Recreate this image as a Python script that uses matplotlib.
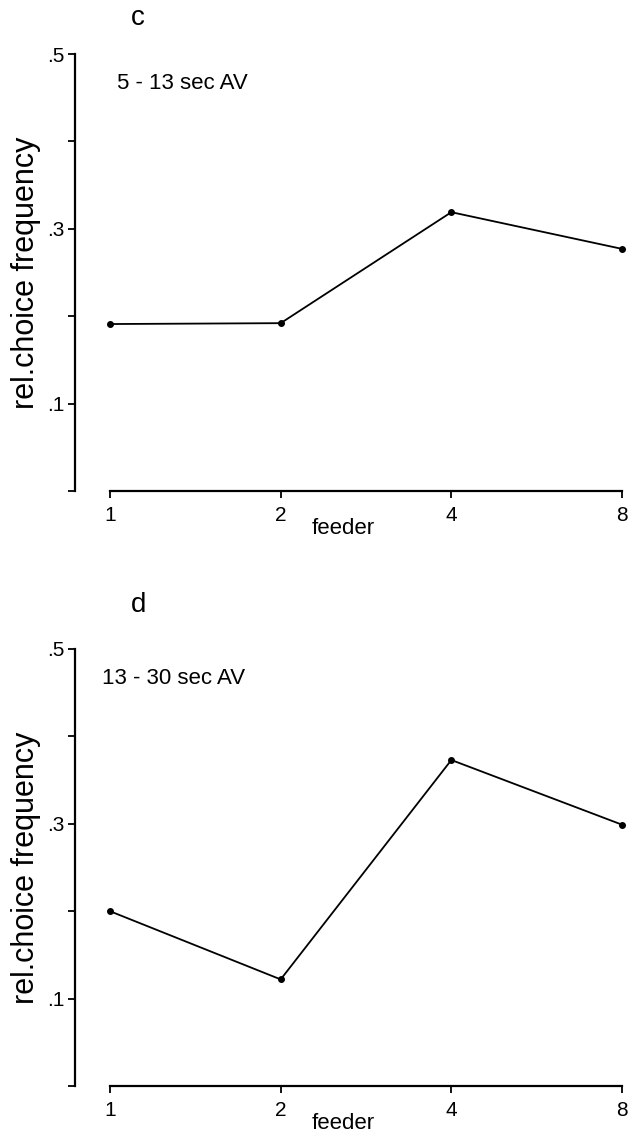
import matplotlib.pyplot as plt

plt.rcParams['font.family'] = ['Liberation Sans', 'DejaVu Sans']

# feeder categories and relative choice frequencies per delay range
feeders = ['1', '2', '4', '8']
freq_c = [0.191, 0.192, 0.319, 0.277]
freq_d = [0.200, 0.122, 0.373, 0.299]

# letter, note, values, axes rect, note x, letter y
panels = [
    ('c', '5 - 13 sec AV', freq_c, [0.1749, 0.5701, 0.8140, 0.3826], 0.014, 1.082),
    ('d', '13 - 30 sec AV', freq_d, [0.1749, 0.0490, 0.8140, 0.3827], -0.016, 1.10),
]

fig = plt.figure(figsize=(6.29, 11.42), dpi=100)

for letter, note, freq, rect, note_x, letter_y in panels:
    ax = fig.add_axes(rect)
    xs = range(len(feeders))
    ax.plot(xs, freq, color='black', lw=1.3, marker='o', ms=4, clip_on=False)

    ax.set_xlim(0, len(feeders) - 1)
    ax.set_ylim(0, 0.5)

    for side in ['top', 'right']:
        ax.spines[side].set_visible(False)
    ax.spines['left'].set_position(('outward', 25))
    ax.spines['left'].set_bounds(0, 0.5)
    ax.spines['left'].set_linewidth(1.6)
    ax.spines['bottom'].set_linewidth(1.6)

    ax.set_xticks(list(xs))
    ax.set_xticklabels(feeders)
    ax.set_yticks([0, 0.1, 0.2, 0.3, 0.4, 0.5])
    ax.set_yticklabels(['', '.1', '', '.3', '', '.5'])
    ax.tick_params(axis='both', direction='out', length=5, width=1.3,
                   labelsize=15, pad=3)
    ax.tick_params(axis='x', pad=6)

    ax.set_ylabel('rel.choice frequency', fontsize=22, labelpad=4)
    ax.text(0.455, -0.085, 'feeder', transform=ax.transAxes, fontsize=16,
            ha='center', va='center')
    ax.text(note_x, 0.932, note, transform=ax.transAxes, fontsize=16,
            ha='left', va='center')
    ax.text(0.055, letter_y, letter, transform=ax.transAxes, fontsize=20,
            ha='center', va='center')

fig.savefig('out.png', dpi=100)
